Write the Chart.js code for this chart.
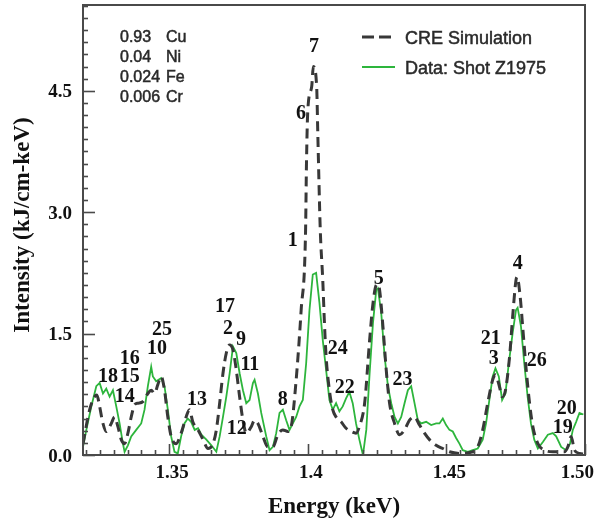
<!DOCTYPE html>
<html><head><meta charset="utf-8">
<script src="https://cdn.jsdelivr.net/npm/chart.js@4.4.1/dist/chart.umd.min.js"></script>
<style>html,body{margin:0;padding:0;background:#fff;}#wrap{width:594px;height:518px;}</style>
</head><body><div id="wrap"><canvas id="c" width="594" height="518"></canvas></div>
<script>
// CRE Simulation (dashed)
const energySim = [1.3189,1.3213,1.3231,1.3239,1.3249,1.3261,1.3273,1.3291,1.3303,1.3315,
1.3327,1.3339,1.3351,1.3363,1.3375,1.3387,1.3405,1.3423,1.3435,1.3447,
1.3459,1.3471,1.3483,1.3495,1.3507,1.3525,1.3543,1.3561,1.3573,1.3585,
1.3604,1.3622,1.3640,1.3658,1.3670,1.3682,1.3694,1.3706,1.3718,1.3730,
1.3742,1.3754,1.3766,1.3778,1.3796,1.3808,1.3820,1.3838,1.3856,1.3874,
1.3892,1.3910,1.3928,1.3940,1.3958,1.3976,1.3992,1.3995,1.4000,1.4014,
1.4020,1.4032,1.4036,1.4045,1.4054,1.4060,1.4066,1.4078,1.4090,1.4102,
1.4120,1.4138,1.4156,1.4174,1.4186,1.4205,1.4223,1.4235,1.4247,1.4253,
1.4259,1.4271,1.4283,1.4295,1.4313,1.4331,1.4349,1.4367,1.4385,1.4403,
1.4421,1.4439,1.4463,1.4487,1.4511,1.4547,1.4583,1.4613,1.4631,1.4649,
1.4667,1.4677,1.4691,1.4701,1.4713,1.4728,1.4739,1.4751,1.4755,1.4766,
1.4776,1.4788,1.4800,1.4812,1.4830,1.4854,1.4884,1.4908,1.4926,1.4938,
1.4950,1.4962,1.4980,1.4999];
const intensitySim = [0.14,0.56,0.72,0.74,0.60,0.39,0.29,0.39,0.47,0.35,
0.19,0.14,0.27,0.47,0.62,0.64,0.66,0.76,0.80,0.76,
0.87,0.97,0.80,0.47,0.23,0.14,0.27,0.47,0.56,0.41,
0.31,0.19,0.08,0.14,0.31,0.64,1.01,1.26,1.36,1.30,
1.05,0.72,0.43,0.27,0.35,0.43,0.39,0.23,0.10,0.10,
0.25,0.31,0.29,0.35,0.93,1.79,2.78,3.56,4.26,4.55,
4.80,4.55,3.98,2.78,2.16,1.63,1.22,0.80,0.56,0.47,
0.41,0.33,0.29,0.27,0.35,0.64,1.42,1.87,2.10,2.11,
2.04,1.59,1.05,0.64,0.39,0.25,0.31,0.43,0.47,0.37,
0.27,0.19,0.12,0.08,0.04,0.02,0.03,0.10,0.31,0.64,
0.93,0.99,0.85,0.72,0.80,1.22,1.71,2.16,2.20,1.96,
1.55,1.05,0.64,0.35,0.14,0.06,0.04,0.04,0.04,0.10,
0.23,0.06,0.02,0.01];

// Data: Shot Z1975 (green)
const energyData = [1.3189,1.3201,1.3219,1.3237,1.3249,1.3261,1.3273,1.3285,1.3297,1.3309,
1.3321,1.3333,1.3339,1.3351,1.3363,1.3381,1.3399,1.3411,1.3423,1.3435,
1.3441,1.3453,1.3471,1.3483,1.3495,1.3507,1.3519,1.3531,1.3543,1.3555,
1.3567,1.3579,1.3592,1.3604,1.3616,1.3634,1.3652,1.3670,1.3682,1.3694,
1.3706,1.3718,1.3730,1.3742,1.3754,1.3766,1.3778,1.3790,1.3802,1.3808,
1.3820,1.3832,1.3850,1.3862,1.3874,1.3886,1.3898,1.3910,1.3922,1.3934,
1.3946,1.3958,1.3970,1.3982,1.3994,1.4006,1.4018,1.4030,1.4042,1.4054,
1.4066,1.4078,1.4090,1.4102,1.4114,1.4126,1.4138,1.4150,1.4162,1.4174,
1.4186,1.4199,1.4211,1.4223,1.4235,1.4247,1.4253,1.4265,1.4277,1.4289,
1.4301,1.4313,1.4325,1.4337,1.4349,1.4361,1.4373,1.4385,1.4397,1.4409,
1.4427,1.4445,1.4463,1.4475,1.4487,1.4499,1.4511,1.4523,1.4535,1.4547,
1.4559,1.4577,1.4595,1.4613,1.4631,1.4643,1.4655,1.4667,1.4677,1.4689,
1.4701,1.4713,1.4725,1.4739,1.4751,1.4757,1.4769,1.4781,1.4793,1.4805,
1.4817,1.4830,1.4848,1.4866,1.4884,1.4896,1.4914,1.4932,1.4946,1.4956,
1.4968,1.4980,1.4994];
const intensityData = [0.10,0.31,0.60,0.85,0.89,0.76,0.82,0.72,0.80,0.60,
0.39,0.14,0.04,0.12,0.23,0.31,0.39,0.56,0.85,1.09,
0.97,0.91,0.95,0.85,0.56,0.23,0.04,0.02,0.23,0.39,
0.45,0.41,0.31,0.33,0.25,0.19,0.12,0.04,0.23,0.47,
0.72,1.01,1.34,1.26,1.01,0.80,0.64,0.68,0.89,0.93,
0.76,0.52,0.23,0.06,0.10,0.27,0.52,0.56,0.43,0.31,
0.39,0.47,0.60,0.68,1.13,1.79,2.23,2.25,1.88,1.42,
1.05,0.68,0.56,0.64,0.54,0.60,0.70,0.78,0.64,0.39,
0.19,0.00,0.31,1.01,1.63,2.04,2.06,1.75,1.22,0.85,
0.64,0.47,0.39,0.47,0.64,0.80,0.85,0.64,0.43,0.39,
0.41,0.37,0.39,0.39,0.45,0.37,0.31,0.29,0.21,0.14,
0.06,0.04,0.06,0.08,0.19,0.39,0.68,0.97,1.07,0.97,
0.68,0.76,1.13,1.51,1.79,1.82,1.59,1.13,0.72,0.39,
0.19,0.08,0.16,0.25,0.27,0.23,0.10,0.06,0.14,0.31,
0.41,0.52,0.50];

// Line identification labels (position in keV / intensity)
const peakLabels = ['7','6','1','17','2','9','11','12','8','13','25','10','16','15','18','14','24','22','5','23','21','3','4','26','20','19'];
const peakX = [1.4022,1.3975,1.3946,1.3701,1.3712,1.3759,1.3791,1.3744,1.3910,1.3600,1.3474,1.3456,1.3358,1.3358,1.3279,1.3340,1.4108,1.4133,1.4256,1.4342,1.4660,1.4671,1.4757,1.4826,1.4934,1.4920];
const peakY = [5.07,4.24,2.67,1.85,1.58,1.45,1.14,0.35,0.71,0.71,1.57,1.34,1.21,0.99,0.99,0.74,1.34,0.85,2.20,0.95,1.46,1.21,2.39,1.19,0.59,0.36];

// Composition
const compFractions = ['0.93','0.04','0.024','0.006'];
const compElements = ['Cu','Ni','Fe','Cr'];

// Axes
const xTicks = [1.35,1.40,1.45,1.50];
const xTickLabels = ['1.35','1.4','1.45','1.50'];
const yTicks = [0,1.5,3.0,4.5];
const yTickLabels = ['0.0','1.5','3.0','4.5'];
const seriesNames = ['CRE Simulation','Data: Shot Z1975'];

const simPts = energySim.map((x,i)=>({x:x,y:intensitySim[i]}));
const dataPts = energyData.map((x,i)=>({x:x,y:intensityData[i]}));

const FRAME = '#4a4a4a';
const SIMCOL = '#383838';
const DATCOL = '#2db53c';

const decor = {
  id:'decor',
  afterDraw(chart){
    const ctx = chart.ctx, a = chart.chartArea;
    const xs = chart.scales.x, ys = chart.scales.y;
    ctx.save();
    // frame
    ctx.strokeStyle = FRAME; ctx.lineWidth = 2;
    ctx.strokeRect(a.left, a.top, a.right-a.left, a.bottom-a.top);
    // y ticks (inward)
    ctx.lineWidth = 1.6;
    for(let i=0;i<=37;i++){
      const v = i*0.15; if(v>ys.max) break;
      const p = Math.round(ys.getPixelForValue(v))+0.5;
      const len = (i%10===0)?12:5;
      ctx.beginPath(); ctx.moveTo(a.left, p); ctx.lineTo(a.left+len, p); ctx.stroke();
    }
    // x ticks (inward)
    for(let i=0;i<=40;i++){
      const v = 1.32 + i*0.005; if(v>xs.max+1e-9) break;
      const p = Math.round(xs.getPixelForValue(v))+0.5;
      const major = Math.abs(v/0.05 - Math.round(v/0.05))<1e-6;
      const len = major?11:5;
      ctx.beginPath(); ctx.moveTo(p, a.bottom); ctx.lineTo(p, a.bottom-len); ctx.stroke();
    }
    // tick labels
    ctx.fillStyle = '#111';
    ctx.font = 'bold 19px "Liberation Serif", "Times New Roman", serif';
    ctx.textAlign = 'right'; ctx.textBaseline = 'alphabetic';
    yTicks.forEach((v,i)=>{
      const p = ys.getPixelForValue(v);
      ctx.fillText(yTickLabels[i], a.left-11, p+6.5);
    });
    ctx.textAlign = 'center';
    xTicks.forEach((v,i)=>{
      let p = xs.getPixelForValue(v);
      const w = ctx.measureText(xTickLabels[i]).width;
      if(p + w/2 > 591) p = 591 - w/2;
      ctx.fillText(xTickLabels[i], p+3, a.bottom+23);
    });
    // axis titles
    ctx.font = 'bold 23px "Liberation Serif", "Times New Roman", serif';
    ctx.textAlign = 'center';
    ctx.fillText('Energy (keV)', 334, 513);
    ctx.save();
    ctx.translate(29, 225); ctx.rotate(-Math.PI/2);
    ctx.fillText('Intensity (kJ/cm-keV)', 0, 0);
    ctx.restore();
    // peak labels
    ctx.font = 'bold 20px "Liberation Serif", "Times New Roman", serif';
    ctx.textAlign = 'center'; ctx.textBaseline = 'alphabetic';
    peakLabels.forEach((t,i)=>{
      const px = xs.getPixelForValue(peakX[i]);
      const py = ys.getPixelForValue(peakY[i]);
      ctx.fillText(t, px, py+7);
    });
    // composition
    ctx.fillStyle = '#2a2a2a';
    ctx.strokeStyle = '#2a2a2a'; ctx.lineWidth = 0.5;
    ctx.font = '16px "Liberation Sans", Arial, sans-serif';
    ctx.textAlign = 'left';
    compFractions.forEach((f,i)=>{
      const by = 42 + i*20;
      ctx.fillText(f, 120, by); ctx.strokeText(f, 120, by);
      ctx.fillText(compElements[i], 166, by); ctx.strokeText(compElements[i], 166, by);
    });
    // legend
    ctx.font = '18px "Liberation Sans", Arial, sans-serif';
    ctx.strokeStyle = SIMCOL; ctx.lineWidth = 3; ctx.setLineDash([12,5]);
    ctx.beginPath(); ctx.moveTo(362,37); ctx.lineTo(393,37); ctx.stroke();
    ctx.setLineDash([]);
    ctx.strokeStyle = DATCOL; ctx.lineWidth = 2;
    ctx.beginPath(); ctx.moveTo(362,67); ctx.lineTo(395,67); ctx.stroke();
    ctx.fillStyle = '#2a2a2a'; ctx.strokeStyle = '#2a2a2a'; ctx.lineWidth = 0.5;
    ctx.fillText(seriesNames[0], 405, 44); ctx.strokeText(seriesNames[0], 405, 44);
    ctx.fillText(seriesNames[1], 405, 74); ctx.strokeText(seriesNames[1], 405, 74);
    ctx.restore();
  }
};

new Chart(document.getElementById('c').getContext('2d'), {
  type:'line',
  data:{datasets:[
    {label:seriesNames[0], data:simPts, borderColor:SIMCOL, borderWidth:3, borderDash:[10,6], pointRadius:0, cubicInterpolationMode:'monotone', fill:false},
    {label:seriesNames[1], data:dataPts, borderColor:DATCOL, borderWidth:1.8, pointRadius:0, tension:0, fill:false}
  ]},
  options:{
    responsive:false, animation:false, devicePixelRatio:1,
    layout:{padding:{left:83,top:5,right:9,bottom:63}},
    scales:{
      x:{type:'linear', min:1.3189, max:1.50, display:false},
      y:{type:'linear', min:0, max:5.56, display:false}
    },
    plugins:{legend:{display:false}, tooltip:{enabled:false}}
  },
  plugins:[decor]
});
</script></body></html>
